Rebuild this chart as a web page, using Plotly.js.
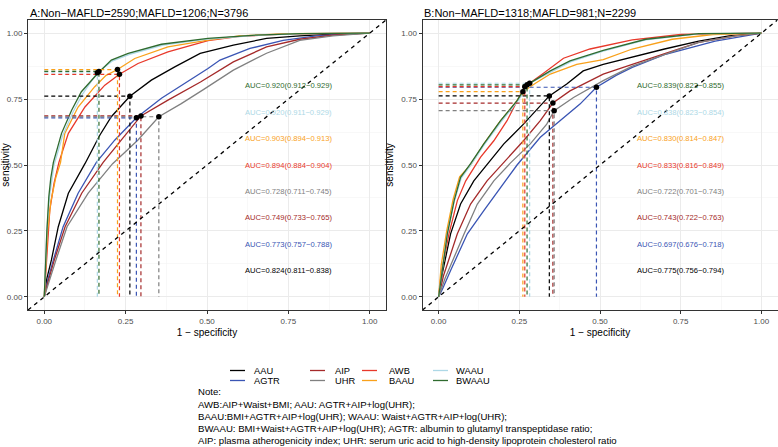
<!DOCTYPE html>
<html><head><meta charset="utf-8">
<script src="https://cdn.plot.ly/plotly-3.0.1.min.js"></script>
<style>html,body{margin:0;padding:0;background:#fff}#chart{width:778px;height:447px}</style>
</head><body><div id="chart"></div>
<script>
// ---------- data ----------
const models = ["AAU","AGTR","AIP","UHR","AWB","BAAU","WAAU","BWAAU"];
const colors = ["#000000","#3A55B4","#A52A2A","#808080","#E8392B","#F9A11B","#ADD8E6","#2F6B2F"];
const panelTitles = ["A:Non\u2212MAFLD=2590;MAFLD=1206;N=3796","B:Non\u2212MAFLD=1318;MAFLD=981;N=2299"];

// Panel A ROC curves (1-specificity, sensitivity)
const A_AAU_fpr = [0,0.008,0.022,0.043,0.074,0.1,0.125,0.171,0.206,0.263,0.329,0.401,0.479,0.581,0.683,0.785,0.9,1];
const A_AAU_tpr = [0,0.07,0.14,0.266,0.393,0.45,0.505,0.614,0.683,0.761,0.822,0.872,0.923,0.955,0.98,0.99,0.997,1];
const A_AGTR_fpr = [0,0.01,0.028,0.058,0.104,0.16,0.217,0.283,0.36,0.432,0.503,0.54,0.632,0.734,0.836,0.93,1];
const A_AGTR_tpr = [0,0.06,0.14,0.266,0.393,0.51,0.595,0.679,0.753,0.809,0.866,0.898,0.942,0.973,0.99,0.997,1];
const A_AIP_fpr = [0,0.01,0.031,0.064,0.115,0.181,0.237,0.297,0.38,0.48,0.581,0.683,0.785,0.887,1];
const A_AIP_tpr = [0,0.05,0.14,0.266,0.393,0.51,0.595,0.686,0.746,0.815,0.891,0.948,0.977,0.993,1];
const A_UHR_fpr = [0,0.01,0.036,0.07,0.135,0.21,0.288,0.352,0.421,0.49,0.581,0.683,0.785,0.887,1];
const A_UHR_tpr = [0,0.04,0.14,0.266,0.393,0.505,0.595,0.683,0.733,0.787,0.86,0.924,0.973,0.99,1];
const A_AWB_fpr = [0,0.005,0.012,0.017,0.03,0.045,0.074,0.125,0.186,0.231,0.288,0.38,0.503,0.6,0.75,0.9,1];
const A_AWB_tpr = [0,0.1,0.25,0.33,0.43,0.51,0.62,0.72,0.803,0.844,0.885,0.929,0.972,0.988,0.997,1,1];
const A_BAAU_fpr = [0,0.004,0.01,0.02,0.035,0.05,0.063,0.104,0.155,0.19,0.225,0.278,0.38,0.503,0.6,0.75,1];
const A_BAAU_tpr = [0,0.12,0.25,0.36,0.45,0.51,0.62,0.72,0.797,0.84,0.862,0.904,0.948,0.974,0.99,0.998,1];
const A_WAAU_fpr = [0,0.003,0.008,0.015,0.022,0.03,0.056,0.088,0.118,0.163,0.21,0.262,0.365,0.505,0.65,0.79,1];
const A_WAAU_tpr = [0,0.12,0.25,0.37,0.44,0.5,0.61,0.7,0.77,0.85,0.895,0.92,0.955,0.978,0.992,0.998,1];
const A_BWAAU_fpr = [0,0.003,0.008,0.014,0.02,0.028,0.053,0.084,0.114,0.164,0.206,0.258,0.36,0.503,0.65,0.785,1];
const A_BWAAU_tpr = [0,0.12,0.25,0.38,0.45,0.51,0.62,0.708,0.778,0.847,0.898,0.923,0.958,0.98,0.993,0.998,1];
// Panel A optimal cut-off points (model order)
const A_cut_fpr = [0.263,0.283,0.297,0.352,0.231,0.225,0.163,0.168];
const A_cut_tpr = [0.761,0.679,0.686,0.683,0.844,0.862,0.850,0.855];
const A_auc = ["0.824(0.811\u22120.838)","0.773(0.757\u22120.788)","0.749(0.733\u22120.765)","0.728(0.711\u22120.745)",
               "0.894(0.884\u22120.904)","0.903(0.894\u22120.913)","0.920(0.911\u22120.929)","0.920(0.912\u22120.929)"];

// Panel B ROC curves
const B_AAU_fpr = [0,0.01,0.037,0.068,0.109,0.15,0.202,0.263,0.343,0.397,0.448,0.51,0.6,0.7,0.806,0.9,1];
const B_AAU_tpr = [0,0.08,0.239,0.352,0.44,0.5,0.58,0.655,0.762,0.807,0.857,0.882,0.91,0.94,0.97,0.99,1];
const B_AGTR_fpr = [0,0.012,0.037,0.089,0.14,0.192,0.243,0.315,0.387,0.438,0.489,0.55,0.6,0.703,0.857,1];
const B_AGTR_tpr = [0,0.03,0.1,0.239,0.327,0.415,0.5,0.605,0.68,0.731,0.795,0.84,0.87,0.92,0.97,1];
const B_AIP_fpr = [0,0.015,0.058,0.099,0.15,0.202,0.263,0.315,0.354,0.407,0.51,0.6,0.806,0.92,1];
const B_AIP_tpr = [0,0.08,0.239,0.352,0.44,0.51,0.592,0.668,0.735,0.781,0.845,0.882,0.965,0.99,1];
const B_UHR_fpr = [0,0.02,0.079,0.12,0.171,0.222,0.284,0.335,0.358,0.418,0.51,0.6,0.806,0.92,1];
const B_UHR_tpr = [0,0.07,0.239,0.352,0.44,0.507,0.58,0.655,0.706,0.756,0.82,0.875,0.965,0.99,1];
const B_AWB_fpr = [0,0.008,0.032,0.058,0.084,0.109,0.13,0.171,0.212,0.24,0.267,0.325,0.387,0.469,0.6,0.75,1];
const B_AWB_tpr = [0,0.09,0.239,0.365,0.44,0.49,0.53,0.592,0.668,0.735,0.797,0.848,0.905,0.94,0.975,0.995,1];
const B_BAAU_fpr = [0,0.008,0.025,0.045,0.065,0.099,0.14,0.192,0.243,0.261,0.3,0.346,0.428,0.51,0.6,0.724,0.85,1];
const B_BAAU_tpr = [0,0.12,0.25,0.37,0.455,0.5,0.58,0.668,0.744,0.778,0.81,0.845,0.882,0.9,0.94,0.977,0.995,1];
const B_WAAU_fpr = [0,0.012,0.027,0.048,0.07,0.1,0.142,0.194,0.245,0.282,0.35,0.41,0.51,0.642,0.806,1];
const B_WAAU_tpr = [0,0.1,0.24,0.36,0.45,0.5,0.578,0.665,0.742,0.81,0.855,0.892,0.932,0.975,0.997,1];
const B_BWAAU_fpr = [0,0.012,0.027,0.048,0.068,0.099,0.14,0.192,0.243,0.274,0.346,0.407,0.51,0.642,0.806,1];
const B_BWAAU_tpr = [0,0.1,0.239,0.365,0.453,0.505,0.58,0.668,0.744,0.804,0.857,0.895,0.935,0.977,0.998,1];
const B_cut_fpr = [0.343,0.489,0.354,0.358,0.267,0.261,0.282,0.274];
const B_cut_tpr = [0.762,0.795,0.735,0.706,0.797,0.778,0.810,0.804];
const B_auc = ["0.775(0.756\u22120.794)","0.697(0.676\u22120.718)","0.743(0.722\u22120.763)","0.722(0.701\u22120.743)",
               "0.833(0.816\u22120.849)","0.830(0.814\u22120.847)","0.838(0.823\u22120.854)","0.839(0.823\u22120.855)"];

const axisTicks = [0,0.25,0.5,0.75,1];
const axisTickText = ["0.00","0.25","0.50","0.75","1.00"];

const noteLines = [
  "Note:",
  "AWB:AIP+Waist+BMI; AAU: AGTR+AIP+log(UHR);",
  "BAAU:BMI+AGTR+AIP+log(UHR); WAAU: Waist+AGTR+AIP+log(UHR);",
  "BWAAU: BMI+Waist+AGTR+AIP+log(UHR); AGTR: albumin to glutamyl transpeptidase ratio;",
  "AIP: plasma atherogenicity index; UHR: serum uric acid to high-density lipoprotein cholesterol ratio"
];

// ---------- build ----------
const panels = [
  {xa:"x", ya:"y", fpr:[A_AAU_fpr,A_AGTR_fpr,A_AIP_fpr,A_UHR_fpr,A_AWB_fpr,A_BAAU_fpr,A_WAAU_fpr,A_BWAAU_fpr],
   tpr:[A_AAU_tpr,A_AGTR_tpr,A_AIP_tpr,A_UHR_tpr,A_AWB_tpr,A_BAAU_tpr,A_WAAU_tpr,A_BWAAU_tpr],
   cx:A_cut_fpr, cy:A_cut_tpr, auc:A_auc},
  {xa:"x2", ya:"y2", fpr:[B_AAU_fpr,B_AGTR_fpr,B_AIP_fpr,B_UHR_fpr,B_AWB_fpr,B_BAAU_fpr,B_WAAU_fpr,B_BWAAU_fpr],
   tpr:[B_AAU_tpr,B_AGTR_tpr,B_AIP_tpr,B_UHR_tpr,B_AWB_tpr,B_BAAU_tpr,B_WAAU_tpr,B_BWAAU_tpr],
   cx:B_cut_fpr, cy:B_cut_tpr, auc:B_auc}
];

const FONT = "Liberation Sans, Arial, Helvetica, sans-serif";
const traces = [];
const annotations = [];
const shapes = [];

panels.forEach(p => {
  models.forEach((m,i) => {
    traces.push({type:"scatter", mode:"lines", x:p.fpr[i], y:p.tpr[i], xaxis:p.xa, yaxis:p.ya,
      line:{color:colors[i], width:1.3}, showlegend:false, hoverinfo:"skip", name:m});
  });
  models.forEach((m,i) => {
    traces.push({type:"scatter", mode:"lines", x:[0,p.cx[i],p.cx[i]], y:[p.cy[i],p.cy[i],0],
      xaxis:p.xa, yaxis:p.ya, line:{color:colors[i], width:1.2, dash:"4px,3px"}, showlegend:false, hoverinfo:"skip"});
  });
  traces.push({type:"scatter", mode:"lines", x:[-0.05,1.05], y:[-0.05,1.05], xaxis:p.xa, yaxis:p.ya,
    line:{color:"#000", width:1.3, dash:"4px,4px"}, showlegend:false, hoverinfo:"skip"});
  traces.push({type:"scatter", mode:"markers", x:p.cx, y:p.cy, xaxis:p.xa, yaxis:p.ya,
    marker:{color:"#000", size:5.5}, showlegend:false, hoverinfo:"skip"});
  models.forEach((m,i) => {
    annotations.push({xref:p.xa, yref:p.ya, x:0.75, y:0.1*(i+1), text:"AUC="+p.auc[i], showarrow:false,
      xanchor:"center", yanchor:"middle", font:{family:"Liberation Sans Narrow, Arial Narrow, "+FONT, size:7.6, color:colors[i]}});
  });
});

[[28,panelTitles[0]],[422,panelTitles[1]]].forEach(t => {
  annotations.push({xref:"paper", yref:"paper", x:t[0]/778, y:1-13/447, xanchor:"left", yanchor:"middle",
    text:t[1], showarrow:false, font:{family:FONT, size:11, color:"#000"}});
});

// legend (4 columns x 2 rows, column-major)
const legLineX = [230,310,362,433];
const legTextX = [252,333,387,454];
const legRowY = [370.5,380.5];
models.forEach((m,i) => {
  const c = Math.floor(i/2), r = i%2;
  const yy = 1-legRowY[r]/447;
  shapes.push({type:"line", xref:"paper", yref:"paper", x0:legLineX[c]/778, x1:(legLineX[c]+15)/778, y0:yy, y1:yy,
    line:{color:colors[i], width:1.3}});
  annotations.push({xref:"paper", yref:"paper", x:legTextX[c]/778, y:yy, xanchor:"left", yanchor:"middle",
    text:m, showarrow:false, font:{family:FONT, size:9.3, color:"#000"}});
});

// note, one annotation per line
const noteY = [391.5,404.5,416.5,428.5,440];
noteLines.forEach((t,k) => {
  annotations.push({xref:"paper", yref:"paper", x:196/778, y:1-noteY[k]/447, xanchor:"left", yanchor:"middle",
    align:"left", showarrow:false, text:t, font:{family:FONT, size:9.6, color:"#000"}});
});

function axis(domain, isX, anchor){
  return {domain:domain, range:[-0.05,1.05], anchor:anchor, tickvals:axisTicks, ticktext:axisTickText,
    showgrid:true, gridcolor:"#EBEBEB", gridwidth:1, zeroline:false,
    minor:{dtick:0.125, tick0:0, showgrid:true, gridcolor:"#F3F3F3", gridwidth:0.6, ticklen:0},
    showline:true, mirror:true, linecolor:"#333", linewidth:1,
    ticks:"outside", ticklen:3, tickcolor:"#333", tickwidth:1,
    tickfont:{family:FONT, size:8, color:"#4D4D4D"},
    title:{text: isX ? "1 \u2212 specificity" : "sensitivity", font:{family:FONT, size:10, color:"#000"}, standoff: isX ? 4 : 5},
    automargin:false};
}
const yDom = [1-310/447, 1-20/447];
const layout = {
  width:778, height:447, margin:{l:0,r:0,t:0,b:0}, paper_bgcolor:"#fff", plot_bgcolor:"#fff",
  showlegend:false,
  xaxis: axis([28/778, 386/778], true, "y"),
  yaxis: axis(yDom, false, "x"),
  xaxis2: axis([422.5/778, 777.5/778], true, "y2"),
  yaxis2: axis(yDom, false, "x2"),
  annotations: annotations, shapes: shapes
};
Plotly.newPlot("chart", traces, layout, {displayModeBar:false, staticPlot:true});
</script></body></html>
